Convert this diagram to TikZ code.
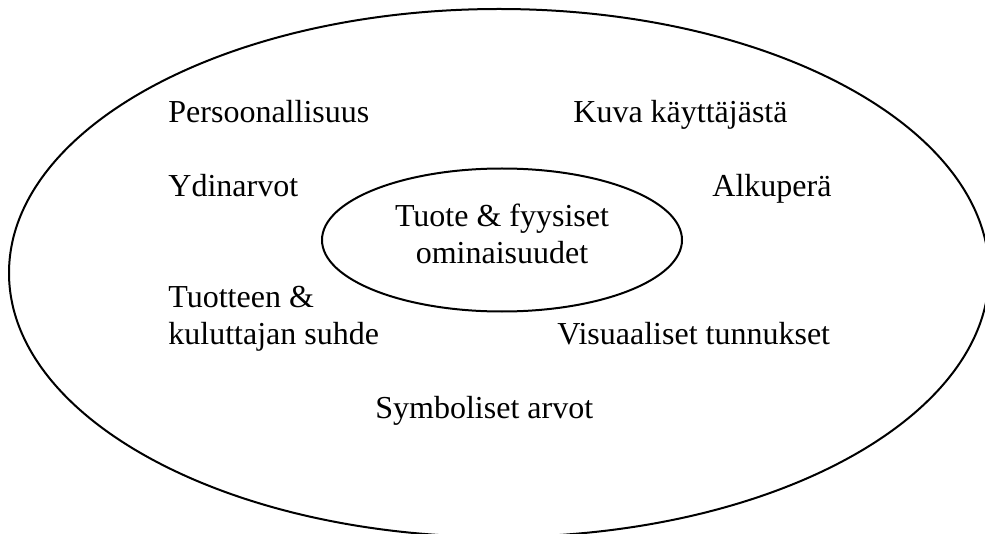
\documentclass[tikz,border=0pt]{standalone}
\usepackage{fontspec}
\setmainfont{Liberation Serif}
\usetikzlibrary{shapes.geometric}
\begin{document}
\begin{tikzpicture}[x=0.5pt,y=-0.5pt,
  ring/.style={draw=black,line width=1pt,ellipse,inner sep=0pt},
  lbl/.style={anchor=base west,inner sep=0pt,font=\fontsize{16}{18.5}\selectfont},
  coretxt/.style={inner sep=0pt,align=center,font=\fontsize{16}{18.5}\selectfont}]
\useasboundingbox (0,0) rectangle (985,534);
\clip (0,0) rectangle (985,534);
\node[ring,minimum width=490pt,minimum height=264pt] (outer) at (499,273) {};
\node[ring,minimum width=180pt,minimum height=71.5pt] (inner) at (502,240) {};
\node[coretxt] (innertext) at (502,234) {Tuote \& fyysiset\\ominaisuudet};
\node[lbl] (pers) at (168,123) {Persoonallisuus};
\node[lbl] (kuva) at (573,123) {Kuva käyttäjästä};
\node[lbl] (ydin) at (168,197) {Ydinarvot};
\node[lbl] (alku) at (712,197) {Alkuperä};
\node[lbl] (tuot) at (168,307) {Tuotteen \&};
\node[lbl] (kulu) at (168,344) {kuluttajan suhde};
\node[lbl] (visu) at (557,344) {Visuaaliset tunnukset};
\node[lbl] (symb) at (375,418) {Symboliset arvot};
\end{tikzpicture}
\end{document}
